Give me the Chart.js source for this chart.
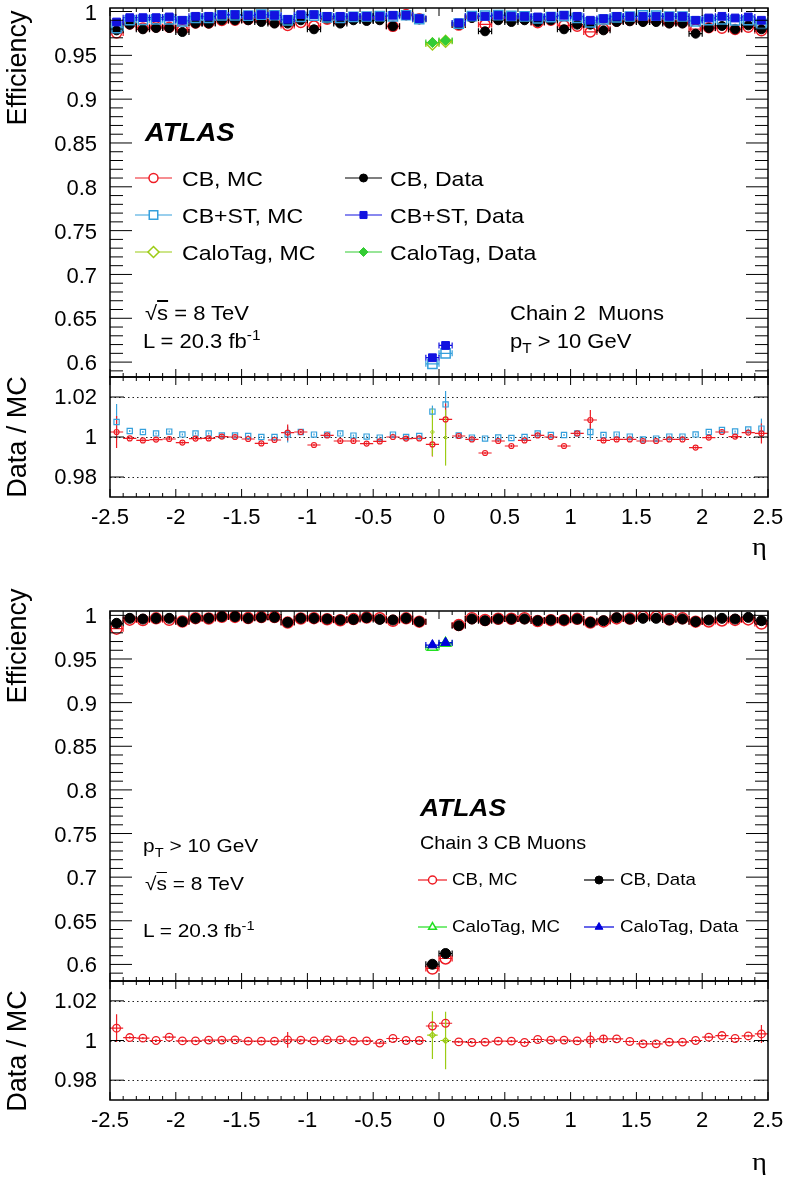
<!DOCTYPE html>
<html>
<head>
<meta charset="utf-8">
<title>Muon efficiency vs eta</title>
<script src="https://cdn.jsdelivr.net/npm/chart.js@4.4.1/dist/chart.umd.min.js"></script>
<style>
  body { margin: 0; background: #fff; }
  #page { position: relative; width: 786px; height: 1177px; overflow: hidden; font-family: "Liberation Sans", Arial, sans-serif; color: #000; }
  #page canvas { position: absolute; left: 0; }
  .t { position: absolute; white-space: pre; line-height: 1; transform: scaleX(1.1); transform-origin: 0 50%; }
  .rot { position: absolute; white-space: pre; line-height: 1; transform: translate(-50%, -50%) rotate(-90deg); }
  .t sub { font-size: 70%; vertical-align: -0.35em; line-height: 0; }
  .t sup { font-size: 70%; vertical-align: 0.55em; line-height: 0; }
  .ov { text-decoration: overline; }
</style>
</head>
<body>
<div id="page">
  <canvas id="c1" width="786" height="378" style="top:0"></canvas>
  <canvas id="c2" width="786" height="161" style="top:376px"></canvas>
  <canvas id="c3" width="786" height="382" style="top:600px"></canvas>
  <canvas id="c4" width="786" height="160" style="top:980px"></canvas>

  <!-- chain 2 -->
  <div class="rot" style="left:17px;top:68px;font-size:27px">Efficiency</div>
  <div class="rot" style="left:17px;top:437px;font-size:27px">Data / MC</div>
  <div class="t" style="left:752px;top:532px;font:26px 'Liberation Serif',serif">η</div>
  <div class="t" style="left:145px;top:118px;font:italic bold 25px 'Liberation Sans',Arial,sans-serif">ATLAS</div>
  <div class="t" style="left:182px;top:168px;font-size:21px">CB, MC</div>
  <div class="t" style="left:390px;top:168px;font-size:21px">CB, Data</div>
  <div class="t" style="left:182px;top:205px;font-size:21px">CB+ST, MC</div>
  <div class="t" style="left:390px;top:205px;font-size:21px">CB+ST, Data</div>
  <div class="t" style="left:182px;top:242px;font-size:21px">CaloTag, MC</div>
  <div class="t" style="left:390px;top:242px;font-size:21px">CaloTag, Data</div>
  <div class="t" style="left:145px;top:303px;font-size:20px">√<span class="ov">s</span> = 8 TeV</div>
  <div class="t" style="left:143px;top:331px;font-size:20px">L = 20.3 fb<sup>-1</sup></div>
  <div class="t" style="left:510px;top:303px;font-size:20px">Chain 2  Muons</div>
  <div class="t" style="left:510px;top:331px;font-size:20px">p<sub>T</sub> &gt; 10 GeV</div>

  <!-- chain 3 -->
  <div class="rot" style="left:17px;top:646px;font-size:27px">Efficiency</div>
  <div class="rot" style="left:17px;top:1051px;font-size:27px">Data / MC</div>
  <div class="t" style="left:752px;top:1147px;font:26px 'Liberation Serif',serif">η</div>
  <div class="t" style="left:420px;top:794px;font:italic bold 24px 'Liberation Sans',Arial,sans-serif">ATLAS</div>
  <div class="t" style="left:420px;top:834px;font-size:18px">Chain 3 CB Muons</div>
  <div class="t" style="left:452px;top:871px;font-size:17px">CB, MC</div>
  <div class="t" style="left:620px;top:871px;font-size:17px">CB, Data</div>
  <div class="t" style="left:452px;top:918px;font-size:17px">CaloTag, MC</div>
  <div class="t" style="left:620px;top:918px;font-size:17px">CaloTag, Data</div>
  <div class="t" style="left:143px;top:836px;font-size:19px">p<sub>T</sub> &gt; 10 GeV</div>
  <div class="t" style="left:145px;top:874px;font-size:19px">√<span class="ov">s</span> = 8 TeV</div>
  <div class="t" style="left:143px;top:921px;font-size:19px">L = 20.3 fb<sup>-1</sup></div>
</div>

<script>
// eta bin centres (bin width 0.1)
const etaBins = [-2.45,-2.35,-2.25,-2.15,-2.05,-1.95,-1.85,-1.75,-1.65,-1.55,
                 -1.45,-1.35,-1.25,-1.15,-1.05,-0.95,-0.85,-0.75,-0.65,-0.55,
                 -0.45,-0.35,-0.25,-0.15,-0.05,0.05,0.15,0.25,0.35,0.45,
                 0.55,0.65,0.75,0.85,0.95,1.05,1.15,1.25,1.35,1.45,
                 1.55,1.65,1.75,1.85,1.95,2.05,2.15,2.25,2.35,2.45];
const caloBins = [-0.05, 0.05];

const etaTicks = [-2.5,-2,-1.5,-1,-0.5,0,0.5,1,1.5,2,2.5];
const effTicks = [0.6,0.65,0.7,0.75,0.8,0.85,0.9,0.95,1];
const ratioTicks = [0.98,1,1.02];

// ---- Chain 2 ----
const cbMC2 = [0.9755,0.9857,0.9813,0.9825,0.982,0.9793,0.987,0.9869,0.9898,0.990,
               0.991,0.9912,0.9877,0.984,0.9875,0.9836,0.9911,0.9882,0.992,0.9925,
               0.9922,0.9831,0.9965,0.9918,null,null,0.9845,0.9938,0.9853,0.992,
               0.9925,0.9917,0.9872,0.990,0.9841,0.9832,0.9767,0.9802,0.9892,0.990,
               0.990,0.990,0.9874,0.9874,0.9799,0.9815,0.981,0.9795,0.982,0.978];
const cbData2 = [0.9785,0.985,0.9797,0.9812,0.9812,0.9766,0.9862,0.9862,0.990,0.990,
                 0.990,0.988,0.9862,0.9862,0.990,0.9797,0.9919,0.9862,0.990,0.9892,
                 0.990,0.9831,0.9957,0.9911,null,null,0.985,0.9926,0.9774,0.990,
                 0.988,0.990,0.988,0.990,0.9797,0.985,0.985,0.9785,0.988,0.9888,
                 0.988,0.988,0.9862,0.9862,0.9747,0.9812,0.9835,0.9797,0.9842,0.9797];
const cbstMC2 = [0.981,0.990,0.9905,0.991,0.991,0.9887,0.9927,0.9927,0.9956,0.9956,
                 0.9952,0.9964,0.9957,0.9898,0.9939,0.9952,0.9933,0.9927,0.9938,0.9943,
                 0.9948,0.9945,0.9957,0.9914,0.598,0.610,0.9862,0.9948,0.9953,0.9959,
                 0.995,0.9945,0.992,0.9935,0.9947,0.9927,0.9875,0.9909,0.9933,0.9943,
                 0.9957,0.9953,0.9943,0.9943,0.9887,0.9901,0.991,0.9898,0.990,0.9858];
const cbstData2 = [0.988,0.993,0.993,0.993,0.9938,0.990,0.9945,0.9945,0.9964,0.9964,
                   0.9957,0.9964,0.9957,0.9911,0.9964,0.9964,0.9945,0.9945,0.9945,0.9945,
                   0.9945,0.9957,0.9957,0.9919,0.605,0.619,0.987,0.9945,0.9945,0.9957,
                   0.9945,0.9945,0.9938,0.9945,0.9957,0.9945,0.990,0.9919,0.9945,0.9945,
                   0.9945,0.9945,0.9945,0.9945,0.990,0.9926,0.9945,0.9926,0.9938,0.990];
const caloMC2 = [0.963, 0.966];
const caloData2 = [0.9645, 0.967];

const cbRatio2 = [1.0025,0.9993,0.9983,0.9987,0.999,0.9972,0.9992,0.9993,1.0002,1.0,
                  0.999,0.9968,0.9985,1.0022,1.0025,0.996,1.0008,0.998,0.998,0.9967,
                  0.9978,1.0,0.9992,0.9993,0.9963,1.0088,1.0005,0.9988,0.992,0.998,
                  0.9955,0.9983,1.0008,1.0,0.9955,1.0018,1.0085,0.9983,0.9988,0.9988,
                  0.998,0.998,0.9988,0.9988,0.9947,0.9997,1.0025,1.0002,1.0022,1.0018];
const cbRatioErr2 = [0.008,0.0006,0.0006,0.0006,0.0006,0.0006,0.0006,0.0006,0.0006,0.0006,
                     0.0006,0.0006,0.0006,0.004,0.0006,0.0006,0.0006,0.0006,0.0006,0.0006,
                     0.0006,0.0006,0.0006,0.0006,0.006,0.008,0.0006,0.0006,0.0006,0.0006,
                     0.0006,0.0006,0.0006,0.0006,0.0006,0.0006,0.005,0.0006,0.0006,0.0006,
                     0.0006,0.0006,0.0006,0.0006,0.0006,0.0006,0.0006,0.0006,0.0006,0.005];
const cbstRatio2 = [1.0075,1.003,1.0025,1.0018,1.0027,1.0013,1.0018,1.0018,1.0008,1.0008,
                    1.0005,1.0,1.0,1.0013,1.0025,1.0012,1.0012,1.0018,1.0007,1.0002,
                    0.9997,1.0012,1.0,1.0005,1.0127,1.0163,1.0008,0.9997,0.9992,0.9998,
                    0.9995,1.0,1.0018,1.001,1.001,1.0018,1.0025,1.001,1.0012,1.0002,
                    0.9988,0.9992,1.0002,1.0002,1.0013,1.0025,1.0035,1.0028,1.0038,1.0042];
const cbstRatioErr2 = [0.009,0.0005,0.0005,0.0005,0.0005,0.0005,0.0005,0.0005,0.0005,0.0005,
                       0.0005,0.0005,0.0005,0.004,0.0005,0.0005,0.0005,0.0005,0.0005,0.0005,
                       0.0005,0.0005,0.0005,0.0005,0.003,0.0067,0.0005,0.0005,0.0005,0.0005,
                       0.0005,0.0005,0.0005,0.0005,0.0005,0.0005,0.004,0.0005,0.0005,0.0005,
                       0.0005,0.0005,0.0005,0.0005,0.0005,0.0005,0.0005,0.0005,0.0005,0.005];
const caloRatio2 = [1.0025, 0.9997];
const caloRatioErr2 = [0.012, 0.014];

// ---- Chain 3 ----
const cbMC3 = [0.9848,0.9951,0.9946,0.9966,0.9949,0.993,0.9968,0.9964,0.9983,0.9982,
               0.9969,0.998,0.998,0.9917,0.9964,0.9968,0.9955,0.9944,0.9957,0.9975,
               0.9967,0.9937,0.9966,0.9928,0.5953,0.6068,0.9889,0.9968,0.9947,0.9961,
               0.9961,0.9968,0.9934,0.9945,0.9945,0.996,0.9917,0.9931,0.9965,0.9963,
               0.9983,0.9983,0.9955,0.9966,0.9928,0.993,0.9941,0.9948,0.9954,0.9906];
const cbData3 = [0.9909,0.9966,0.9958,0.9966,0.9966,0.9928,0.9966,0.9966,0.9985,0.9985,
                 0.9966,0.9977,0.9977,0.992,0.9966,0.9966,0.9958,0.9947,0.9954,0.9973,
                 0.9954,0.9947,0.9966,0.9928,0.6002,0.6125,0.9882,0.9958,0.9939,0.9958,
                 0.9958,0.9958,0.9939,0.9947,0.9947,0.9958,0.992,0.9939,0.9973,0.9958,
                 0.9966,0.9966,0.9947,0.9958,0.9928,0.9947,0.9966,0.9958,0.9977,0.9939];
const caloMC3 = [0.9634, 0.968];
const caloData3 = [0.966, 0.9687];

const cbRatio3 = [1.0062,1.0015,1.0012,1.0,1.0017,0.9998,0.9998,1.0002,1.0002,1.0003,
                  0.9997,0.9997,0.9997,1.0003,1.0002,0.9998,1.0003,1.0003,0.9997,0.9998,
                  0.9987,1.001,1.0,1.0,1.0073,1.0087,0.9993,0.999,0.9992,0.9997,
                  0.9997,0.999,1.0005,1.0002,1.0002,0.9998,1.0003,1.0008,1.0008,0.9995,
                  0.9983,0.9983,0.9992,0.9992,1.0,1.0017,1.0025,1.001,1.0023,1.0033];
const cbRatioErr3 = [0.007,0.0006,0.0006,0.0006,0.0006,0.0006,0.0006,0.0006,0.0006,0.0006,
                     0.0006,0.0006,0.0006,0.004,0.0006,0.0006,0.0006,0.0006,0.0006,0.0006,
                     0.0006,0.0006,0.0006,0.0006,0.0025,0.002,0.0006,0.0006,0.0006,0.0006,
                     0.0006,0.0006,0.0006,0.0006,0.0006,0.0006,0.004,0.002,0.0006,0.0006,
                     0.0006,0.0006,0.0006,0.0006,0.0006,0.0006,0.0006,0.0006,0.0006,0.0045];
const caloRatio3 = [1.0027, 1.0];
const caloRatioErr3 = [0.012, 0.0145];

// colours
const RED = '#ee1c24', BLACK = '#000', LBLUE = '#35a0dc', BLUE = '#1212e0';
const YGREEN = '#9ccc14', GREEN = '#33cc33', LGREEN = '#22e022', DBLUE = '#0000dd';
const CLEAR = 'rgba(0,0,0,0)';

Chart.defaults.font.family = '"Liberation Sans", Arial, sans-serif';
Chart.defaults.color = '#000';

const fmt = v => String(parseFloat(Number(v).toFixed(3)));

function series(xs, ys, errs, look) {
    const pts = [];
    xs.forEach((x, i) => { if (ys[i] !== null) pts.push({ x: x, y: ys[i], e: errs ? errs[i] : 0 }); });
    return Object.assign({
        data: pts, showLine: false, pointHoverRadius: 0,
        borderColor: look.color, pointBorderColor: look.color,
        backgroundColor: look.fill ? look.color : CLEAR,
        pointBackgroundColor: look.fill ? look.color : CLEAR,
        pointStyle: look.shape, pointRadius: look.r,
        pointBorderWidth: look.fill ? 1 : (look.bw || 1.5)
    }, look.extra || {});
}

// error bars, dotted reference lines, frame with inward ticks, legend markers
const hepPlugin = {
    id: 'hep',
    beforeDatasetsDraw(chart, args, o) {
        const { ctx, chartArea: a } = chart;
        const xs = chart.scales.x, ys = chart.scales.y;
        ctx.save();
        ctx.beginPath();
        ctx.rect(a.left, a.top, a.right - a.left, a.bottom - a.top);
        ctx.clip();
        (o.refLines || []).forEach(v => {
            const py = Math.round(ys.getPixelForValue(v)) + 0.5;
            ctx.setLineDash([1.5, 3]);
            ctx.strokeStyle = '#222';
            ctx.lineWidth = 1.2;
            ctx.beginPath(); ctx.moveTo(a.left, py); ctx.lineTo(a.right, py); ctx.stroke();
        });
        ctx.setLineDash([]);
        chart.data.datasets.slice().reverse().forEach(ds => {
            ctx.strokeStyle = ds.borderColor;
            ctx.lineWidth = 1.2;
            ds.data.forEach(p => {
                const px = xs.getPixelForValue(p.x), py = ys.getPixelForValue(p.y);
                ctx.beginPath();
                if (ds.errX) {
                    const x1 = xs.getPixelForValue(p.x - ds.errX), x2 = xs.getPixelForValue(p.x + ds.errX);
                    ctx.moveTo(x1, py); ctx.lineTo(x2, py);
                    if (ds.caps) {
                        ctx.moveTo(x1, py - 3); ctx.lineTo(x1, py + 3);
                        ctx.moveTo(x2, py - 3); ctx.lineTo(x2, py + 3);
                    }
                }
                if (p.e) {
                    ctx.moveTo(px, ys.getPixelForValue(p.y - p.e));
                    ctx.lineTo(px, ys.getPixelForValue(p.y + p.e));
                }
                ctx.stroke();
            });
        });
        ctx.restore();
    },
    afterDraw(chart, args, o) {
        const { ctx, chartArea: a } = chart;
        const xs = chart.scales.x, ys = chart.scales.y;
        ctx.save();
        ctx.strokeStyle = '#000';
        ctx.lineWidth = 1;
        ctx.beginPath();
        // y ticks, both sides
        const yMajor = ys.ticks.map(t => t.value);
        yMajor.forEach(v => {
            const py = ys.getPixelForValue(v);
            ctx.moveTo(a.left, py); ctx.lineTo(a.left + o.yMajor, py);
            ctx.moveTo(a.right, py); ctx.lineTo(a.right - o.yMajor, py);
        });
        if (o.yMinor) {
            for (let k = Math.ceil(ys.min * 100); k <= Math.floor(ys.max * 100); k++) {
                if (k % 5 === 0) continue;
                const py = ys.getPixelForValue(k / 100);
                ctx.moveTo(a.left, py); ctx.lineTo(a.left + o.yMinor, py);
                ctx.moveTo(a.right, py); ctx.lineTo(a.right - o.yMinor, py);
            }
        }
        // x ticks, top and bottom
        for (let k = -25; k <= 25; k++) {
            const len = k % 5 === 0 ? 8 : 4;
            const px = xs.getPixelForValue(k / 10);
            ctx.moveTo(px, a.top); ctx.lineTo(px, a.top + len);
            ctx.moveTo(px, a.bottom); ctx.lineTo(px, a.bottom - len);
        }
        ctx.stroke();
        ctx.lineWidth = 1.5;
        ctx.strokeRect(a.left, a.top, a.right - a.left, a.bottom - a.top);

        (o.legend || []).forEach(L => {
            ctx.strokeStyle = L.color;
            ctx.lineWidth = 1.2;
            ctx.beginPath(); ctx.moveTo(L.x1, L.y); ctx.lineTo(L.x2, L.y); ctx.stroke();
            ctx.fillStyle = L.fill ? L.color : '#fff';
            ctx.lineWidth = L.fill ? 1 : 1.5;
            Chart.helpers.drawPoint(ctx, { pointStyle: L.shape, radius: L.r, borderWidth: ctx.lineWidth, rotation: 0 },
                (L.x1 + L.x2) / 2, L.y);
        });
        ctx.restore();
    }
};

function panel(id, cfg) {
    return new Chart(document.getElementById(id), {
        type: 'scatter',
        data: { datasets: cfg.datasets },
        options: {
            responsive: false,
            animation: false,
            events: [],
            layout: { autoPadding: false, padding: { left: 0, right: 18, top: cfg.padTop, bottom: cfg.padBottom } },
            plugins: { legend: { display: false }, tooltip: { enabled: false }, hep: cfg.hep },
            scales: {
                x: {
                    type: 'linear', min: -2.5, max: 2.5, display: cfg.showX,
                    grid: { display: false, drawTicks: false }, border: { display: false },
                    ticks: { color: '#000', font: { size: 22 }, padding: 8, maxRotation: 0, autoSkip: false, callback: fmt },
                    afterBuildTicks: s => { s.ticks = etaTicks.map(v => ({ value: v })); },
                    afterFit: s => {
                        s.height = cfg.showX ? 40 : 0;
                        s.paddingLeft = 0; s.paddingRight = 0;
                    }
                },
                y: {
                    type: 'linear', min: cfg.yMin, max: cfg.yMax,
                    grid: { display: false, drawTicks: false }, border: { display: false },
                    ticks: { color: '#000', font: { size: 22 }, padding: 13, labelOffset: cfg.labelShift, autoSkip: false, callback: fmt },
                    afterBuildTicks: s => { s.ticks = cfg.yTicks.map(v => ({ value: v })); },
                    afterFit: s => { s.width = 110; s.paddingTop = 0; s.paddingBottom = 0; }
                }
            }
        },
        plugins: [hepPlugin]
    });
}

// Chain 2 efficiency
panel('c1', {
    padTop: 8, padBottom: 1, showX: false, yMin: 0.583, yMax: 1.004, yTicks: effTicks, labelShift: 2,
    hep: {
        yMajor: 22, yMinor: 13,
        legend: [
            { x1: 135, x2: 172, y: 178, color: RED, shape: 'circle', r: 4.5, fill: false },
            { x1: 345, x2: 382, y: 178, color: BLACK, shape: 'circle', r: 4, fill: true },
            { x1: 135, x2: 172, y: 215, color: LBLUE, shape: 'rect', r: 6, fill: false },
            { x1: 345, x2: 382, y: 215, color: BLUE, shape: 'rect', r: 5, fill: true },
            { x1: 135, x2: 172, y: 252, color: YGREEN, shape: 'rectRot', r: 5.5, fill: false },
            { x1: 345, x2: 382, y: 252, color: GREEN, shape: 'rectRot', r: 4.5, fill: true }
        ]
    },
    datasets: [
        series(caloBins, caloData2, null, { color: GREEN, shape: 'rectRot', r: 5, fill: true, extra: { errX: 0.05, caps: true } }),
        series(caloBins, caloMC2, null, { color: YGREEN, shape: 'rectRot', r: 6, fill: false, extra: { errX: 0.05, caps: true } }),
        series(etaBins, cbstData2, null, { color: BLUE, shape: 'rect', r: 5.5, fill: true, extra: { errX: 0.05, caps: true } }),
        series(etaBins, cbstMC2, null, { color: LBLUE, shape: 'rect', r: 6.5, fill: false, extra: { errX: 0.05, caps: true } }),
        series(etaBins, cbData2, null, { color: BLACK, shape: 'circle', r: 4.5, fill: true, extra: { errX: 0.05, caps: true } }),
        series(etaBins, cbMC2, null, { color: RED, shape: 'circle', r: 5, fill: false, extra: { errX: 0.05, caps: true } })
    ]
});

// Chain 2 ratio
panel('c2', {
    padTop: 1, padBottom: 0, showX: true, yMin: 0.97, yMax: 1.03, yTicks: ratioTicks, labelShift: 1,
    hep: { yMajor: 14, yMinor: 0, refLines: ratioTicks },
    datasets: [
        series(caloBins, caloRatio2, caloRatioErr2, { color: YGREEN, shape: 'rectRot', r: 2, fill: false, bw: 1 }),
        series(etaBins, cbRatio2, cbRatioErr2, { color: RED, shape: 'circle', r: 2.5, fill: false, bw: 1.2, extra: { errX: 0.05 } }),
        series(etaBins, cbstRatio2, cbstRatioErr2, { color: LBLUE, shape: 'rect', r: 3.7, fill: false, bw: 1.2 })
    ]
});

// Chain 3 efficiency
panel('c3', {
    padTop: 11, padBottom: 1, showX: false, yMin: 0.581, yMax: 1.005, yTicks: effTicks, labelShift: 2,
    hep: {
        yMajor: 22, yMinor: 13,
        legend: [
            { x1: 418, x2: 447, y: 280, color: RED, shape: 'circle', r: 4, fill: false },
            { x1: 584, x2: 614, y: 280, color: BLACK, shape: 'circle', r: 4, fill: true },
            { x1: 418, x2: 447, y: 327, color: LGREEN, shape: 'triangle', r: 4.5, fill: false },
            { x1: 584, x2: 614, y: 327, color: DBLUE, shape: 'triangle', r: 4.5, fill: true }
        ]
    },
    datasets: [
        series(caloBins, caloData3, null, { color: DBLUE, shape: 'triangle', r: 5.5, fill: true, extra: { errX: 0.05, caps: true } }),
        series(caloBins, caloMC3, null, { color: LGREEN, shape: 'triangle', r: 6, fill: false, extra: { errX: 0.05, caps: true } }),
        series(etaBins, cbData3, null, { color: BLACK, shape: 'circle', r: 5, fill: true, extra: { errX: 0.05, caps: true } }),
        series(etaBins, cbMC3, null, { color: RED, shape: 'circle', r: 5.5, fill: false, extra: { errX: 0.05, caps: true } })
    ]
});

// Chain 3 ratio
panel('c4', {
    padTop: 1, padBottom: 0, showX: true, yMin: 0.97, yMax: 1.03, yTicks: ratioTicks, labelShift: 1,
    hep: { yMajor: 14, yMinor: 0, refLines: ratioTicks },
    datasets: [
        series(caloBins, caloRatio3, caloRatioErr3, { color: YGREEN, shape: 'rectRot', r: 3, fill: false, bw: 1.2, extra: { errX: 0.04 } }),
        series(etaBins, cbRatio3, cbRatioErr3, { color: RED, shape: 'circle', r: 3.8, fill: false, bw: 1.3, extra: { errX: 0.05 } })
    ]
});
</script>
</body>
</html>
